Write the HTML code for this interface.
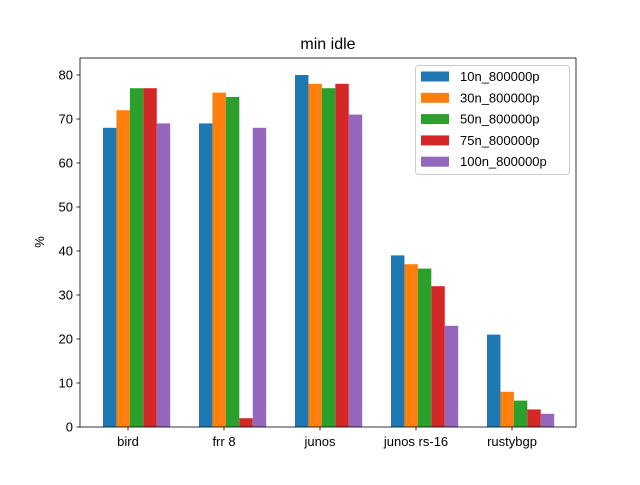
<!DOCTYPE html>
<html><head><meta charset="utf-8"><style>
body{margin:0;background:#fff}
text{font-family:"Liberation Sans","DejaVu Sans",sans-serif;fill:#000}
</style></head><body>
<svg id="chart" width="640" height="480" xmlns="http://www.w3.org/2000/svg">
<rect width="640" height="480" fill="#fff"/>
<text x="328" y="49" font-size="16" text-anchor="middle">min idle</text>
<g id="bars"></g>
<g id="axes"></g>
<text transform="translate(44,242) rotate(-90)" font-size="13" text-anchor="middle">%</text>
<g id="legend"></g>
</svg>
<script>
const categories=["bird","frr 8","junos","junos rs-16","rustybgp"];
const seriesNames=["10n_800000p","30n_800000p","50n_800000p","75n_800000p","100n_800000p"];
const s10=[68,69,80,39,21];
const s30=[72,76,78,37,8];
const s50=[77,75,77,36,6];
const s75=[77,2,78,32,4];
const s100=[69,68,71,23,3];
const yTicks=[0,10,20,30,40,50,60,70,80];
const series=[s10,s30,s50,s75,s100];
const colors=["#1f77b4","#ff7f0e","#2ca02c","#d62728","#9467bd"];
const L=80,R=576,T=58,B=427;
const ns="http://www.w3.org/2000/svg";
function y(v){return B-v*(B-75)/80;}
function xc(i){return 128+i*96;}
const bw=13.44;
function mk(tag,attrs,parent){const e=document.createElementNS(ns,tag);for(const k in attrs)e.setAttribute(k,attrs[k]);parent.appendChild(e);return e;}
const bars=document.getElementById('bars'),axes=document.getElementById('axes'),leg=document.getElementById('legend');
series.forEach((s,j)=>{s.forEach((v,i)=>{
 const r=mk('rect',{x:xc(i)-25+j*bw,y:y(v),width:bw,height:B-y(v),fill:colors[j]},bars);
 
 
});});
const fr=mk('rect',{x:L,y:T,width:R-L,height:B-T,fill:'none',stroke:'#000','stroke-width':0.8},axes);


yTicks.forEach(t=>{
 mk('line',{x1:L-3.5,x2:L,y1:y(t),y2:y(t),stroke:'#000','stroke-width':0.8},axes);
 const tx=mk('text',{x:L-7,y:y(t)+4.5,'font-size':13,'text-anchor':'end'},axes);tx.textContent=t;
 
 
});
categories.forEach((c,i)=>{
 mk('line',{x1:xc(i),x2:xc(i),y1:B,y2:B+3.5,stroke:'#000','stroke-width':0.8},axes);
 const tx=mk('text',{x:xc(i),y:B+19,'font-size':13,'text-anchor':'middle'},axes);tx.textContent=c;
 
 
});
const lb=mk('rect',{x:415.5,y:65.5,width:154,height:109,rx:3,fill:'#fff',stroke:'#ccc','fill-opacity':0.8},leg);


seriesNames.forEach((n,j)=>{
 const yy=76+j*21.3;
 const p=mk('rect',{x:421,y:yy-4.5,width:28,height:10,fill:colors[j]},leg);
 
 
 const t=mk('text',{x:460,y:yy+5,'font-size':13},leg);t.textContent=n;
 
 
});
</script>
</body></html>
